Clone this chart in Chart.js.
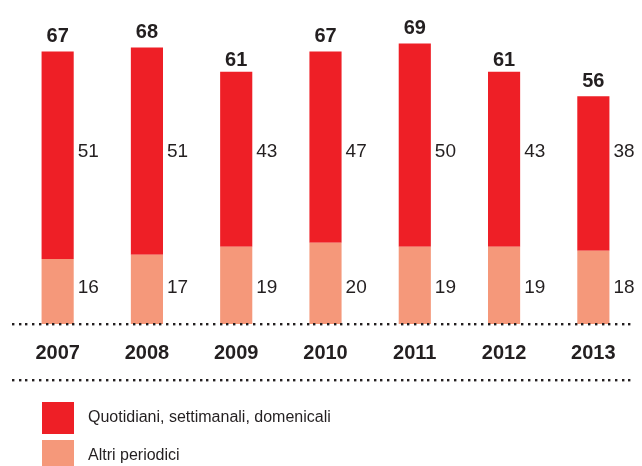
<!DOCTYPE html>
<html>
<head>
<meta charset="utf-8">
<script src="https://cdn.jsdelivr.net/npm/chart.js@4/dist/chart.umd.min.js"></script>
<style>
  html, body { margin: 0; padding: 0; background: #fff; }
  #wrap { width: 642px; height: 466px; position: relative; }
</style>
</head>
<body>
<div id="wrap"><canvas id="chart" width="642" height="466"></canvas></div>
<script>
const years = ['2007', '2008', '2009', '2010', '2011', '2012', '2013'];
const quotidiani = [51, 51, 43, 47, 50, 43, 38];
const altri = [16, 17, 19, 20, 19, 19, 18];
const totals = [67, 68, 61, 67, 69, 61, 56];
const seriesNames = ['Quotidiani, settimanali, domenicali', 'Altri periodici'];

const RED = '#ee1f26';
const SALMON = '#f5987a';
const INK = '#231f20';
const FONT = '"Liberation Sans", Arial, sans-serif';

function dots(ctx, x0, x1, y) {
  ctx.fillStyle = INK;
  for (let x = x0; x <= x1; x += 6.7) ctx.fillRect(Math.round(x), y - 1, 2.4, 2.4);
}

const decor = {
  id: 'decor',
  afterDatasetsDraw(chart) {
    const ctx = chart.ctx;
    const xs = chart.scales.x;
    const ys = chart.scales.y;
    const base = ys.getPixelForValue(0);
    ctx.save();
    ctx.textBaseline = 'middle';
    years.forEach((yr, i) => {
      const cx = xs.getPixelForValue(i);
      ctx.textAlign = 'center';
      ctx.font = 'bold 20px ' + FONT;
      ctx.fillStyle = INK;
      // totals above bars
      ctx.fillText(totals[i], cx, ys.getPixelForValue(totals[i]) - 15);
      // year labels
      ctx.fillText(yr, cx, base + 29);
      // segment values in two fixed rows, right of the bar
      const bar = chart.getDatasetMeta(0).data[i];
      const right = bar.x + bar.width / 2 + 4;
      ctx.font = '19px ' + FONT;
      ctx.textAlign = 'left';
      ctx.fillText(altri[i], right, base - 36);
      ctx.fillText(quotidiani[i], right, base - 172);
    });
    dots(ctx, 12, 632, base);
    dots(ctx, 12, 632, base + 56);
    // legend
    const colors = [RED, SALMON];
    ctx.textAlign = 'left';
    ctx.font = '16px ' + FONT;
    seriesNames.forEach((n, k) => {
      const y = 402 + k * 38;
      ctx.fillStyle = colors[k];
      ctx.fillRect(42, y, 32, 32);
      ctx.fillStyle = INK;
      ctx.fillText(n, 88, y + 16);
    });
    ctx.restore();
  }
};

new Chart(document.getElementById('chart'), {
  type: 'bar',
  data: {
    labels: years,
    datasets: [
      { label: seriesNames[1], data: altri, backgroundColor: SALMON },
      { label: seriesNames[0], data: quotidiani, backgroundColor: RED }
    ]
  },
  options: {
    responsive: false,
    animation: false,
    layout: { padding: { left: 13, right: 4, top: 19, bottom: 142 } },
    plugins: { legend: { display: false }, tooltip: { enabled: false } },
    datasets: { bar: { barPercentage: 0.36, categoryPercentage: 1 } },
    scales: {
      x: { display: false, stacked: true },
      y: { display: false, stacked: true, min: 0, max: 75 }
    }
  },
  plugins: [decor]
});
</script>
</body>
</html>
